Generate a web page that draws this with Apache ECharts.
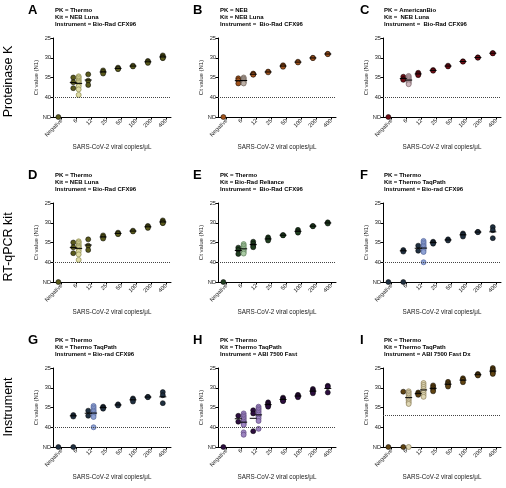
<!DOCTYPE html>
<html><head><meta charset="utf-8">
<script src="https://cdn.jsdelivr.net/npm/echarts@6/dist/echarts.min.js"></script>
<style>html,body{margin:0;padding:0;background:#fff}#c{width:506px;height:488px}</style>
</head><body><div id="c"></div>
<script>
const categories = ['Negative','6','12','25','50','100','200','400'];
const ND = 45;
const yTickLabels = {25:'25',30:'30',35:'35',40:'40',45:'ND'};
const rowLabels = ['Proteinase K','RT-qPCR kit','Instrument'];
const panelLetters = ['A','B','C','D','E','F','G','H','I'];
const pkLines = ['PK = Thermo','PK = NEB','PK = AmericanBio','PK = Thermo','PK = Thermo','PK = Thermo','PK = Thermo','PK = Thermo','PK = Thermo'];
const kitLines = ['Kit = NEB Luna','Kit = NEB Luna','Kit =  NEB Luna','Kit = NEB Luna','Kit = Bio-Rad Reliance','Kit = Thermo TaqPath','Kit = Thermo TaqPath','Kit = Thermo TaqPath','Kit = Thermo TaqPath'];
const instLines = ['Instrument = Bio-Rad CFX96','Instrument =  Bio-Rad CFX96','Instrument =  Bio-Rad CFX96','Instrument = Bio-Rad CFX96','Instrument =  Bio-Rad CFX96','Instrument = Bio-rad CFX96','Instrument = Bio-rad CFX96','Instrument = ABI 7500 Fast','Instrument = ABI 7500 Fast Dx'];
const thresholds = [40,40,40,40,40,40,40,40,37];

// values per category (Negative..400); ND = not detected
const A_dark = [[ND],[35.0,36.2,37.7],[34.2,35.8,36.9],[33.2,33.6,34.0],[32.5,32.7,32.9],[32.0,32.2],[30.8,31.0,31.3],[29.4,29.7,30.0,30.1]];
const A_light = [[],[34.7,35.0,35.4,35.8,36.1,36.4,36.8,37.3,38.0,39.4],[],[],[],[],[],[]];
const B_dark = [[ND],[35.2,35.7,36.5],[34.0,34.2,34.3],[33.5,33.7],[31.9,32.1,32.3],[31.0,31.2],[30.0,30.1],[29.0,29.1]];
const B_light = [[],[35.0,35.3,35.6,35.9,36.2,36.5],[],[],[],[],[],[]];
const C_dark = [[ND],[34.8,35.4,35.6],[33.8,34.1,34.4],[33.1,33.3],[32.0,32.2],[30.9,31.0],[29.9,30.0],[28.8,28.9]];
const C_light = [[],[34.6,34.9,35.2,35.5,35.8,36.1,36.4,36.7],[],[],[],[],[],[]];
const D_dark = [[ND],[35.0,36.2,37.7],[34.2,35.8,36.9],[33.2,33.6,34.0],[32.5,32.7,32.9],[32.0,32.2],[30.8,31.0,31.3],[29.4,29.7,30.0,30.1]];
const D_light = [[],[34.7,35.0,35.4,35.8,36.1,36.4,36.8,37.3,38.0,39.4],[],[],[],[],[],[]];
const E_dark = [[ND],[36.3,36.9,37.9],[34.8,35.3,35.8,36.2],[33.7,34.1,34.5],[33.1,33.2],[31.8,32.2,32.5],[30.8,30.9],[29.9,30.2]];
const E_light = [[],[35.4,35.8,36.2,36.6,37.0,37.4,37.8],[],[],[],[],[],[]];
const F_dark = [[ND],[36.9,37.3,ND],[35.8,37.1],[34.8,35.0,35.3],[34.2,34.5],[32.7,33.0,33.5],[32.3,32.4],[31.1,31.9,33.9]];
const F_light = [[],[],[34.6,35.0,35.4,35.8,36.1,36.5,36.9,37.4,40.0],[],[],[],[],[]];
const G_dark = [[ND],[36.9,37.3,ND],[35.8,37.1],[34.8,35.0,35.3],[34.2,34.5],[32.7,33.0,33.5],[32.3,32.4],[31.1,31.9,33.9]];
const G_light = [[],[],[34.6,35.0,35.4,35.8,36.1,36.5,36.9,37.4,40.0],[],[],[],[],[]];
const H_dark = [[ND],[37.1,38.6],[35.7,36.5,41.0],[33.7,34.1,34.5,34.8],[32.5,32.8,33.2,33.4],[31.8,32.1,32.4],[30.3,30.7,31.0,31.4],[29.5,29.8,31.2]];
const H_light = [[],[36.5,37.0,37.4,37.8,38.2,38.6,39.0,39.4,41.3,41.9],[34.8,35.2,35.6,36.0,36.4,36.8,37.3,37.8,38.4,40.4],[],[],[],[],[]];
const I_dark = [[ND],[31.0,ND],[31.2,31.5,31.8],[29.4,29.9,30.4,30.9],[28.5,28.9,29.3,29.7],[27.6,28.0,28.6],[26.5,26.7,26.9],[25.0,25.4,25.8,26.2,26.5]];
const I_light = [[],[30.9,31.3,31.7,32.1,32.5,32.9,33.3,33.7,34.1,ND],[28.8,29.3,29.8,30.3,30.8,31.3,31.8,32.3],[],[],[],[],[]];

const darkSets = [A_dark,B_dark,C_dark,D_dark,E_dark,F_dark,G_dark,H_dark,I_dark];
const lightSets = [A_light,B_light,C_light,D_light,E_light,F_light,G_light,H_light,I_light];
const darkColors = ['#5a5a1c','#a0521b','#6e0c14','#5a5a1c','#1f3d1f','#203040','#203040','#2c0e3e','#5f4312'];
const lightFill = ['#dedba4','#bcb0a6','#cdb6bc','#dedba4','#aacba4','#8fa2d4','#8fa2d4','#9c84c0','#ddd5b2'];
const lightBorder = ['#8a884c','#6f625a','#7d666c','#8a884c','#5c7c58','#56679c','#56679c','#604a80','#8c805c'];

const FONT = '"Liberation Sans", Arial, sans-serif';
const DARK_OFF = -0.22, LIGHT_OFF = 0.14;
const colLeft = [53, 218, 383], rowTop = [38, 203, 368];
const letterX = [28, 193, 360];
const titleX = [55, 220, 384];

function pts(groups, off){const o=[];groups.forEach((g,i)=>g.forEach(v=>o.push([i+off,v])));return o;}
function means(groups, off){const o=[];groups.forEach((g,i)=>{const v=g.filter(x=>x<ND);if(v.length>=2)o.push([i+off,v.reduce((a,b)=>a+b,0)/v.length]);});return o;}

const grid=[],xAxis=[],yAxis=[],series=[],graphic=[];
const ticks=[0,1,2,3,4,5,6,7];
for(let p=0;p<9;p++){
  const r=Math.floor(p/3), c=p%3;
  grid.push({left:colLeft[c], top:rowTop[r], width:118, height:79});
  xAxis.push({gridIndex:p,type:'value',min:-0.58,max:7.33,
    axisLine:{show:true,onZero:false,lineStyle:{color:'#000',width:1}},
    axisTick:{show:true,customValues:ticks,length:2.5,lineStyle:{color:'#000'}},
    axisLabel:{customValues:ticks,formatter:v=>categories[Math.round(v)],rotate:45,fontSize:5.7,color:'#222',margin:3,fontFamily:FONT},
    splitLine:{show:false},
    name:'SARS-CoV-2 viral copies/μL',nameLocation:'middle',nameGap:27,
    nameTextStyle:{fontSize:6.3,color:'#222',fontFamily:FONT}});
  yAxis.push({gridIndex:p,type:'value',inverse:true,min:25,max:45,interval:5,
    axisLine:{show:true,onZero:false,lineStyle:{color:'#000',width:1}},
    axisTick:{show:true,length:2.5,lineStyle:{color:'#000'}},
    axisLabel:{formatter:v=>yTickLabels[v]||'',fontSize:5.7,color:'#222',margin:2,fontFamily:FONT},
    splitLine:{show:false},
    name:'Ct value (N1)',nameLocation:'middle',nameGap:14,nameRotate:90,
    nameTextStyle:{fontSize:6,color:'#222',fontFamily:FONT}});
  series.push({type:'scatter',xAxisIndex:p,yAxisIndex:p,symbolSize:5,z:3,
    data:pts(darkSets[p],DARK_OFF),
    itemStyle:{color:darkColors[p],borderColor:'#000',borderWidth:0.5,opacity:1},
    markLine:{silent:true,symbol:'none',label:{show:false},
      lineStyle:{type:'dotted',color:'#444',width:1},data:[{yAxis:thresholds[p]}]}});
  series.push({type:'scatter',xAxisIndex:p,yAxisIndex:p,symbolSize:5,z:3,
    data:pts(lightSets[p],LIGHT_OFF),
    itemStyle:{color:lightFill[p],borderColor:lightBorder[p],borderWidth:0.7,opacity:1}});
  series.push({type:'scatter',xAxisIndex:p,yAxisIndex:p,symbol:'rect',symbolSize:[7,1],z:4,silent:true,
    data:means(darkSets[p],DARK_OFF).concat(means(lightSets[p],LIGHT_OFF)),
    itemStyle:{color:'#000',opacity:1}});
  const oy=r*165;
  graphic.push({type:'text',x:letterX[c],y:4+oy,style:{text:panelLetters[p],font:'bold 13px '+FONT,fill:'#000',align:'left',verticalAlign:'top',textAlign:'left',textVerticalAlign:'top'}});
  [pkLines[p],kitLines[p],instLines[p]].forEach((t,k)=>{
    graphic.push({type:'text',x:titleX[c],y:10.5+k*6.8+oy,style:{text:t,font:'bold 6px '+FONT,fill:'#000',align:'left',verticalAlign:'middle',textAlign:'left',textVerticalAlign:'middle'}});
  });
}
const rowCenters=[81.5,247,407];
rowLabels.forEach((t,i)=>{
  graphic.push({type:'text',x:9,y:rowCenters[i],rotation:Math.PI/2,style:{text:t,font:'12.5px '+FONT,fill:'#000',align:'center',verticalAlign:'middle',textAlign:'center',textVerticalAlign:'middle'}});
});

const chart=echarts.init(document.getElementById('c'),null,{renderer:'canvas'});
chart.setOption({animation:false,backgroundColor:'#fff',textStyle:{fontFamily:FONT},grid,xAxis,yAxis,series,graphic});
</script></body></html>
